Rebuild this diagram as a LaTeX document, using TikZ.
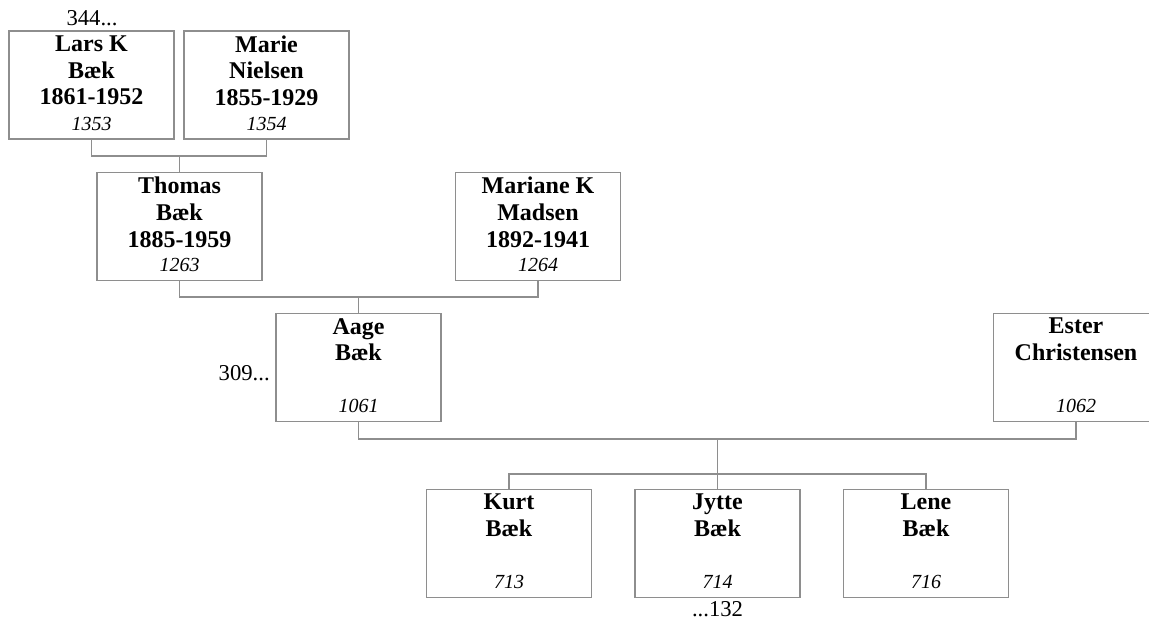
\documentclass[tikz,border=0pt]{standalone}
\usepackage{fontspec}
\setmainfont{Liberation Serif}
\definecolor{linegray}{HTML}{8E8E8E}
% one card: names at the top, id number at the bottom
\newcommand{\pcard}[2]{\parbox[c][81pt][s]{123.75pt}{\centering\vspace*{3.5pt}%
  \fontsize{18}{20}\selectfont\bfseries #1\par\vfill
  \fontsize{15}{18}\selectfont\mdseries\itshape #2\par\vspace*{6.5pt}}}

\begin{document}
\begin{tikzpicture}[x=0.75pt, y=-0.75pt,
  person/.style={draw=linegray, line width=1pt, inner sep=0pt},
  link/.style={draw=linegray, line width=1pt},
  lbl/.style={font=\fontsize{17}{20}\selectfont, inner sep=0pt}]
  \useasboundingbox (0,0) rectangle (1149,621);
  % grandparents
  \node[person] (lars) at (91.5,85) {\pcard{Lars K\\Bæk\\1861-1952}{1353}};
  \node[person] (marie) at (266.5,85) {\pcard{Marie\\Nielsen\\1855-1929}{1354}};
  % parents
  \node[person] (thomas) at (179.5,226.5) {\pcard{Thomas\\Bæk\\1885-1959}{1263}};
  \node[person] (mariane) at (538,226.5) {\pcard{Mariane K\\Madsen\\1892-1941}{1264}};
  % couple
  \node[person] (aage) at (358.5,367.5) {\pcard{Aage\\Bæk}{1061}};
  \node[person] (ester) at (1076,367.5) {\pcard{Ester\\Christensen}{1062}};
  % children
  \node[person] (kurt) at (509,543.5) {\pcard{Kurt\\Bæk}{713}};
  \node[person] (jytte) at (717.5,543.5) {\pcard{Jytte\\Bæk}{714}};
  \node[person] (lene) at (926,543.5) {\pcard{Lene\\Bæk}{716}};

  \node[lbl, anchor=base] (more1) at (92,25) {344...};
  \node[lbl, anchor=base east] (more2) at (270,380) {309...};
  \node[lbl, anchor=base] (more3) at (717.5,616) {...132};

  \coordinate (j1) at (179.5,156);
  \coordinate (j2) at (358.5,297);
  \coordinate (j3) at (717.5,439);
  \coordinate (j4) at (717.5,474);
  \draw[link] (lars.south) |- (j1) -| (marie.south); \draw[link] (j1) -- (thomas.north);
  \draw[link] (thomas.south) |- (j2) -| (mariane.south); \draw[link] (j2) -- (aage.north);
  \draw[link] (aage.south) |- (j3) -| (ester.south); \draw[link] (j3) -- (jytte.north);
  \draw[link] (kurt.north) |- (j4) -| (lene.north);
\end{tikzpicture}
\end{document}
